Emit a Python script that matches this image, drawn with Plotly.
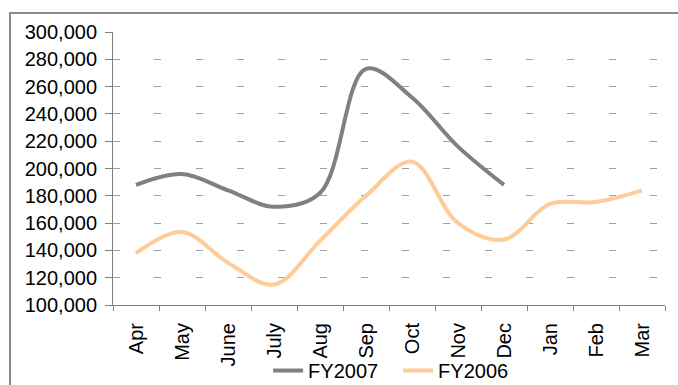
import plotly.graph_objects as go

months = ["Apr", "May", "June", "July", "Aug", "Sep", "Oct", "Nov", "Dec", "Jan", "Feb", "Mar"]
fy2007 = [188000, 196000, 184000, 172000, 182000, 273000, 252000, 216000, 188000, None, None, None]
fy2006 = [138000, 153500, 131000, 115000, 147000, 180000, 205000, 160000, 148000, 174000, 175500, 184000]
y_ticks = list(range(100000, 300001, 20000))

FONT = "Arial, 'Liberation Sans', sans-serif"

fig = go.Figure()
fig.add_trace(go.Scatter(
    x=months, y=fy2007, name="FY2007", mode="lines",
    line=dict(color="#808080", width=4, shape="spline", smoothing=1.0),
))
fig.add_trace(go.Scatter(
    x=months, y=fy2006, name="FY2006", mode="lines",
    line=dict(color="#FFCC99", width=4, shape="spline", smoothing=1.0),
))

fig.update_layout(
    width=678, height=385,
    margin=dict(l=113, r=13, t=32, b=80, autoexpand=False),
    paper_bgcolor="white", plot_bgcolor="white",
    font=dict(family=FONT, size=20, color="black"),
    showlegend=True,
    legend=dict(orientation="h", x=0.281, xanchor="left", y=-0.24, yanchor="middle",
                font=dict(size=20), itemwidth=30, tracegroupgap=0,
                entrywidth=85, entrywidthmode="pixels",
                bgcolor="rgba(0,0,0,0)"),
    xaxis=dict(
        type="category", tickangle=-90, tickson="boundaries",
        ticks="outside", ticklen=5, tickcolor="#808080",
        showline=True, linecolor="#808080", linewidth=1,
        showgrid=False, range=[-0.5, 11.5], fixedrange=True,
        ticklabelstandoff=9,
    ),
    yaxis=dict(
        range=[100000, 300000], tickvals=y_ticks, tickformat=",",
        ticks="outside", ticklen=7, tickcolor="#808080",
        showline=True, linecolor="#808080", linewidth=1,
        showgrid=True, gridcolor="#a0a0a0", gridwidth=1, griddash="7px,34.3px",
        zeroline=False, ticklabelstandoff=4, fixedrange=True,
    ),
    shapes=[dict(type="rect", xref="paper", yref="paper",
                 x0=-0.1866, x1=1.05, y0=-0.4, y1=1.0696,
                 line=dict(color="#8a8a8a", width=2), fillcolor="rgba(0,0,0,0)", layer="below")],
)

fig.write_html("out.html", config={"displayModeBar": False},
               post_script="document.body.style.margin='0px';")
